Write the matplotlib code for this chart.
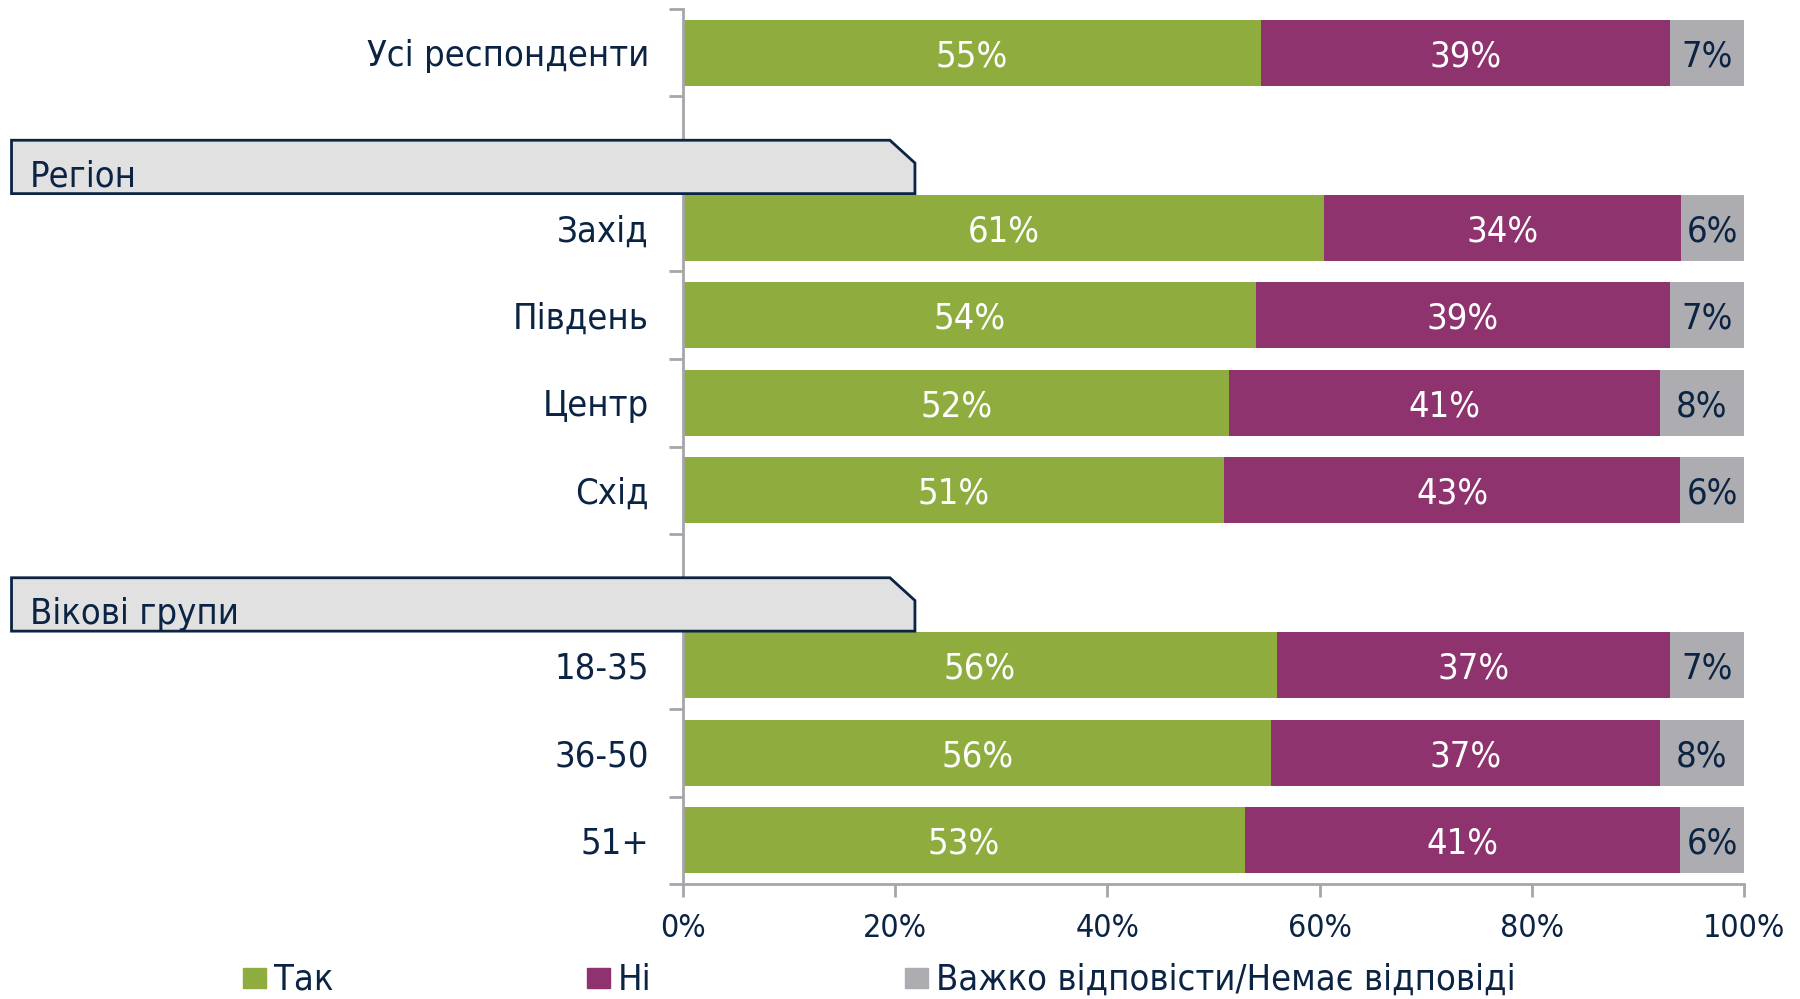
import matplotlib
matplotlib.use("Agg")
from matplotlib import pyplot as plt
from matplotlib import font_manager
from matplotlib.patches import Polygon, Rectangle
import matplotlib.transforms as mtransforms
import numpy as np

# survey groups, top to bottom (None = slot taken by a section header)
categories = ["Усі респонденти", None, "Захід", "Південь", "Центр", "Схід",
              None, "18-35", "36-50", "51+"]
headers = {1: "Регіон", 6: "Вікові групи"}

yes_vals = [55, 61, 54, 52, 51, 56, 56, 53]
no_vals = [39, 34, 39, 41, 43, 37, 37, 41]
hard_vals = [7, 6, 7, 8, 6, 7, 8, 6]

series_names = ["Так", "Ні", "Важко відповісти/Немає відповіді"]
xticks = [0, 20, 40, 60, 80, 100]

GREEN = "#8fad3f"
PURPLE = "#8e336d"
GREY = "#adacb0"
NAVY = "#0c2444"
AXIS = "#a5a5aa"


def pick_font():
    """narrowest sans we can find"""
    fonts = font_manager.fontManager.ttflist
    names = {f.name for f in fonts}
    if "Liberation Sans Narrow" in names:
        return "Liberation Sans Narrow", "normal"
    for f in fonts:
        if f.name == "DejaVu Sans" and "Condensed" in f.fname:
            return "DejaVu Sans", "condensed"
    if "Roboto Condensed" in names:
        return "Roboto Condensed", "normal"
    return "Roboto", "normal"


family, stretch = pick_font()
plt.rcParams["font.family"] = [family, "DejaVu Sans"]
plt.rcParams["font.stretch"] = stretch

fig = plt.figure(figsize=(18, 9.99), dpi=100)
ax = fig.add_axes([0.3794, 0.1151, 0.5895, 0.8759])

bar_rows = [i for i, c in enumerate(categories) if c is not None]
data = np.array([yes_vals, no_vals, hard_vals], dtype=float)
totals = data.sum(axis=0)
shares = data / totals * 100  # stacked to 100%

colors = [GREEN, PURPLE, GREY]
label_colors = ["white", "white", NAVY]
left = np.zeros(len(bar_rows))
for k in range(3):
    ax.barh(bar_rows, shares[k], left=left, height=0.755, color=colors[k],
            label=series_names[k], zorder=2)
    for row, l, w, v in zip(bar_rows, left, shares[k], data[k]):
        ax.text(l + w / 2, row + 0.04, f"{int(v)}%", ha="center", va="center",
                fontsize=26, color=label_colors[k], zorder=3)
    left += shares[k]

ax.set_xlim(0, 100)
ax.set_ylim(9.5, -0.5)
ax.set_xticks(xticks)
ax.set_xticklabels([f"{t}%" for t in xticks], fontsize=23, color=NAVY)
ax.set_yticks(np.arange(-0.5, 10, 1))
ax.set_yticklabels([])
ax.tick_params(axis="x", length=9, width=2, color=AXIS, pad=12)
ax.tick_params(axis="y", length=10, width=2, color=AXIS)
for side in ["top", "right"]:
    ax.spines[side].set_visible(False)
for side in ["left", "bottom"]:
    ax.spines[side].set_color(AXIS)
    ax.spines[side].set_linewidth(2)

# category names beside the bars
for row in bar_rows:
    ax.text(-3.2, row + 0.04, categories[row], ha="right", va="center",
            fontsize=26, color=NAVY)

# section header tabs, spanning from the figure edge over the axis
trans = mtransforms.blended_transform_factory(fig.transFigure, ax.transData)
for row, title in headers.items():
    x0, x1, xc = 0.0064, 0.5083, 0.4944
    y0, y1, yc = row, row + 0.61, row + 0.26
    tab = Polygon([(x0, y0), (xc, y0), (x1, yc), (x1, y1), (x0, y1)],
                  closed=True, transform=trans, facecolor="#e1e1e1",
                  edgecolor=NAVY, linewidth=2, clip_on=False, zorder=5)
    ax.add_patch(tab)
    ax.text(0.0167, row + 0.41, title, transform=trans, ha="left",
            va="center", fontsize=26, color=NAVY, zorder=6, clip_on=False)

# legend along the bottom
leg_x = [0.135, 0.326, 0.503]
for lx, name, col in zip(leg_x, series_names, colors):
    fig.patches.append(Rectangle((lx, 0.0110), 0.0128, 0.0200,
                                 transform=fig.transFigure, color=col))
    fig.text(lx + 0.0170, 0.0195, name, ha="left", va="center",
             fontsize=26, color=NAVY)

fig.savefig("out.png", dpi=100)
